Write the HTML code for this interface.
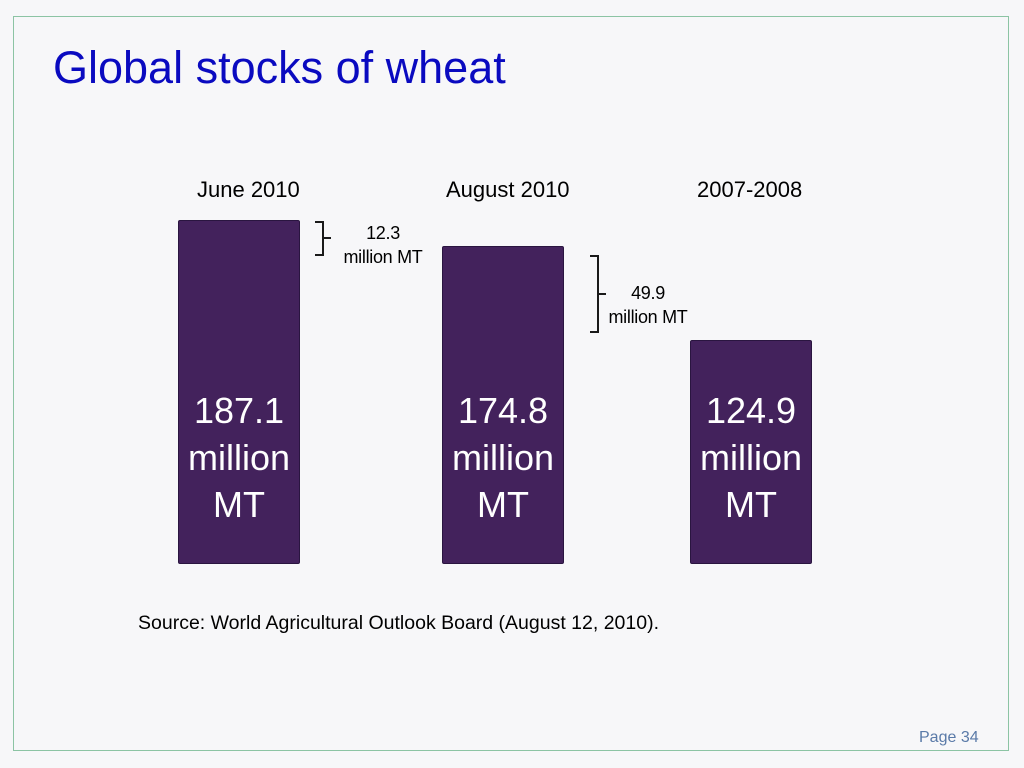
<!DOCTYPE html>
<html><head><meta charset="utf-8"><style>
body{margin:0;width:1024px;height:768px;background:#f7f7f9;position:relative;overflow:hidden;font-family:"Liberation Sans",sans-serif}
.frame{position:absolute;left:13px;top:16px;width:996px;height:735px;border:1px solid #8cc4a4;box-sizing:border-box}
.t{position:absolute;white-space:nowrap}
.bar{position:absolute;background:#43225c;border:1px solid #2a1540;box-sizing:border-box;border-radius:2px}
.bt{position:absolute;color:#fff;font-size:36px;line-height:47px;text-align:center;width:140px}
.lab{font-size:22px;color:#000}
.sm{font-size:18px;color:#000;text-align:center;line-height:24px;letter-spacing:-0.3px}
</style></head><body>
<div class="frame"></div>
<div class="t" style="left:53px;top:42px;font-size:45px;color:#0a0ac0;">Global stocks of wheat</div>
<div class="t lab" style="left:197px;top:177px">June 2010</div>
<div class="t lab" style="left:446px;top:177px">August 2010</div>
<div class="t lab" style="left:697px;top:177px">2007-2008</div>
<div class="bar" style="left:178px;top:220px;width:122px;height:344px"></div>
<div class="bar" style="left:442px;top:246px;width:122px;height:318px"></div>
<div class="bar" style="left:690px;top:340px;width:122px;height:224px"></div>
<div class="bt" style="left:169px;top:387px">187.1<br>million<br>MT</div>
<div class="bt" style="left:433px;top:387px">174.8<br>million<br>MT</div>
<div class="bt" style="left:681px;top:387px">124.9<br>million<br>MT</div>
<svg class="t" style="left:0;top:0" width="1024" height="768">
<path d="M315 222 h8 v16 M323 238 h8 M323 238 v17 h-8" fill="none" stroke="#1a1a1a" stroke-width="2"/>
<path d="M590 256 h8 v38 M598 294 h8 M598 294 v38 h-8" fill="none" stroke="#1a1a1a" stroke-width="2"/>
</svg>
<div class="t sm" style="left:333px;top:221px;width:100px">12.3<br>million MT</div>
<div class="t sm" style="left:598px;top:281px;width:100px">49.9<br>million MT</div>
<div class="t" style="left:138px;top:612px;font-size:19.5px;color:#000;">Source: World Agricultural Outlook Board (August 12, 2010).</div>
<div class="t" style="left:919px;top:729px;font-size:16px;color:#5a7aa8">Page 34</div>
</body></html>
